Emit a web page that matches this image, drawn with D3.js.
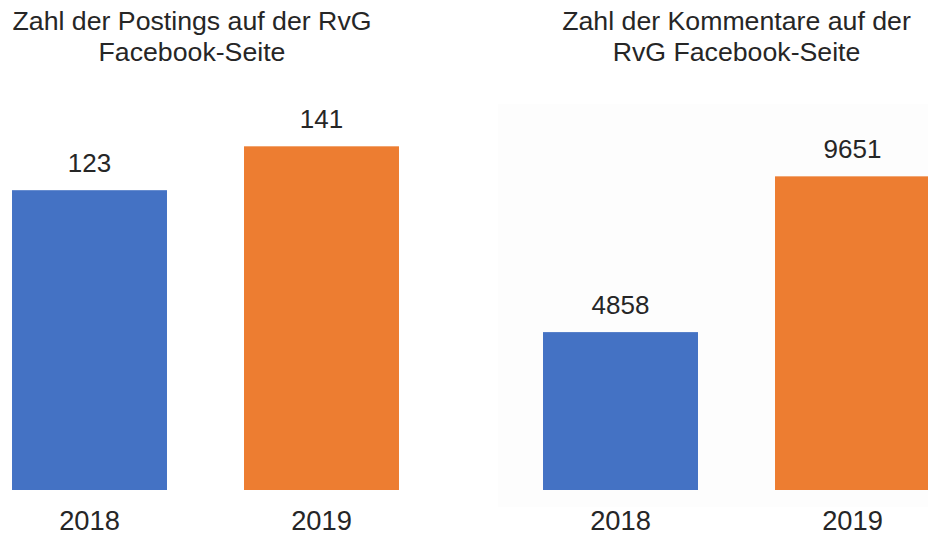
<!DOCTYPE html>
<html>
<head>
<meta charset="utf-8">
<script src="https://cdn.jsdelivr.net/npm/d3@7"></script>
<style>
  body { margin: 0; background: #fff; }
  svg { display: block; font-family: Arial, "Liberation Sans", sans-serif; }
</style>
</head>
<body>
<svg id="canvas" width="928" height="535"></svg>
<script>
var years = ['2018', '2019'];
var postings = [123, 141];
var kommentare = [4858, 9651];
var barColors = ['#4472C4', '#ED7D31'];
var titlePostings = ['Zahl der Postings auf der RvG', 'Facebook-Seite'];
var titleKommentare = ['Zahl der Kommentare auf der', 'RvG Facebook-Seite'];

var svg = d3.select('svg#canvas');
var textColor = '#262626';

// one small bar chart per panel
function drawPanel(opts) {
  var g = svg.append('g').attr('class', 'panel');

  if (opts.backdrop) {
    g.append('rect')
      .attr('x', opts.backdrop[0]).attr('y', opts.backdrop[1])
      .attr('width', opts.backdrop[2]).attr('height', opts.backdrop[3])
      .attr('fill', '#fdfdfd');
  }

  var x = d3.scaleBand()
    .domain(years)
    .range(opts.xRange)
    .paddingInner(0.332)
    .paddingOuter(0.166);

  var y = d3.scaleLinear()
    .domain([0, opts.max])
    .range([490, 100]);

  g.selectAll('.bar')
    .data(opts.values)
    .enter().append('rect')
    .attr('class', 'bar')
    .attr('x', function(d, i) { return x(years[i]); })
    .attr('y', function(d) { return y(d); })
    .attr('width', x.bandwidth())
    .attr('height', function(d) { return y(0) - y(d); })
    .attr('fill', function(d, i) { return barColors[i]; });

  g.selectAll('.value')
    .data(opts.values)
    .enter().append('text')
    .attr('class', 'value')
    .attr('x', function(d, i) { return x(years[i]) + x.bandwidth() / 2; })
    .attr('y', function(d) { return y(d) - 18; })
    .attr('text-anchor', 'middle')
    .attr('fill', textColor)
    .style('font-size', '26px')
    .text(function(d) { return d; });

  var axis = g.append('g')
    .attr('transform', 'translate(0,490)')
    .call(d3.axisBottom(x).tickSize(0));
  axis.select('.domain').remove();
  axis.selectAll('text')
    .attr('fill', textColor)
    .attr('dy', 0)
    .attr('y', 40)
    .style('font-size', '27.3px')
    .style('font-family', 'Arial, "Liberation Sans", sans-serif');

  g.selectAll('.title')
    .data(opts.title)
    .enter().append('text')
    .attr('class', 'title')
    .attr('x', opts.titleX)
    .attr('y', function(d, i) { return 30 + i * 31; })
    .attr('text-anchor', 'middle')
    .attr('fill', textColor)
    .style('font-size', '26.7px')
    .text(function(d) { return d; });
}

drawPanel({
  values: postings,
  max: 160,
  xRange: [-26.5, 437.5],
  title: titlePostings,
  titleX: 192
});

drawPanel({
  values: kommentare,
  max: 12000,
  xRange: [504.5, 968.5],
  title: titleKommentare,
  titleX: 736.5,
  backdrop: [498, 104, 430, 403]
});
</script>
</body>
</html>
